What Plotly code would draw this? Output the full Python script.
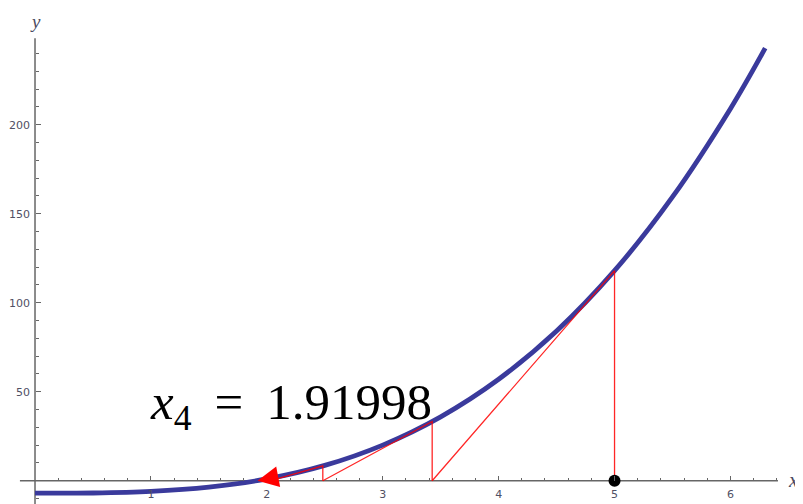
import plotly.graph_objects as go

# Curve values
curve_x = [0.0, 0.5, 1.0, 1.5, 2.0, 2.5, 3.0, 3.5, 4.0, 4.5, 5.0, 5.5, 6.0, 6.3]
curve_y = [-7.0, -6.9, -6.0, -3.6, 1.0, 8.6, 20.0, 35.9, 57.0, 84.1, 118.0, 159.4, 209.0, 243.0]

# Newton iterates
newton_x = [5.0, 3.4267, 2.4831, 2.0338, 1.91998]
newton_fx = [118.0, 33.24, 8.31, 1.413, 0.0]

x_ticks = [1, 2, 3, 4, 5, 6]
y_ticks = [50, 100, 150, 200]
x_minor = [round(i * 0.2, 1) for i in range(1, 33) if i % 5 != 0]
y_minor = [v for v in range(-10, 250, 10) if v % 50 != 0]

# page has an 8px body margin: figure is placed at (8, 8)
OFF = 8
W, H = 795, 496
XR = [-0.233, 6.626]
YR = [-13.09, 265.56]

def px_x(p):
    return (p - OFF) / W

def px_y(p):
    return 1 - (p - OFF) / H

fig = go.Figure()

# main curve
fig.add_trace(go.Scatter(
    x=curve_x, y=curve_y, mode="lines", line_shape="spline",
    line=dict(color="rgb(58,58,156)", width=4.8), hoverinfo="skip", showlegend=False))

# Newton construction (vertical + tangent segments)
seg_x, seg_y = [], []
for i in range(len(newton_x) - 2):
    seg_x += [newton_x[i], newton_x[i], newton_x[i + 1], None]
    seg_y += [0, newton_fx[i], 0, None]
i = len(newton_x) - 2
seg_x += [newton_x[i], newton_x[i], None]
seg_y += [0, newton_fx[i], None]
fig.add_trace(go.Scatter(
    x=seg_x, y=seg_y, mode="lines", line=dict(color="rgba(255,0,0,0.85)", width=1.3),
    hoverinfo="skip", showlegend=False, connectgaps=False))

# starting point
fig.add_trace(go.Scatter(
    x=[newton_x[0]], y=[0], mode="markers",
    marker=dict(color="black", size=12), hoverinfo="skip", showlegend=False))

# final arrow
fig.add_annotation(
    x=newton_x[-1], y=newton_fx[-1], ax=newton_x[-2], ay=newton_fx[-2],
    xref="x", yref="y", axref="x", ayref="y", showarrow=True, text="",
    arrowhead=2, arrowsize=2.8, arrowwidth=1.5, arrowcolor="red")

axis_color = "#666666"
tick_font = dict(family="DejaVu Sans", size=11, color="#505064")

# axis lines as shapes
fig.add_shape(type="line", xref="x", yref="y", x0=-0.13, x1=6.41, y0=0, y1=0,
              line=dict(color=axis_color, width=1.5), layer="below")
fig.add_shape(type="line", xref="x", yref="y", x0=0, x1=0, y0=YR[0], y1=248.5,
              line=dict(color=axis_color, width=1.5), layer="below")

xpos = (0 - YR[0]) / (YR[1] - YR[0])
ypos = (0 - XR[0]) / (XR[1] - XR[0])

fig.update_layout(
    width=W, height=H, margin=dict(l=0, r=0, t=0, b=0),
    paper_bgcolor="white", plot_bgcolor="white",
    xaxis=dict(range=XR, showgrid=False, zeroline=False, showline=False,
               anchor="free", position=xpos, side="bottom",
               tickvals=x_ticks, ticktext=[str(v) for v in x_ticks],
               ticks="inside", ticklen=5, tickwidth=1.2, tickcolor=axis_color,
               tickfont=tick_font, ticklabelstandoff=5,
               minor=dict(tickvals=x_minor, ticks="inside", ticklen=3,
                          tickwidth=1, tickcolor=axis_color)),
    yaxis=dict(range=YR, showgrid=False, zeroline=False, showline=False,
               anchor="free", position=ypos, side="left",
               tickvals=y_ticks, ticktext=[str(v) for v in y_ticks],
               ticks="inside", ticklen=5, tickwidth=1.2, tickcolor=axis_color,
               tickfont=tick_font, ticklabelstandoff=5,
               minor=dict(tickvals=y_minor, ticks="inside", ticklen=3,
                          tickwidth=1, tickcolor=axis_color)),
)

# axis labels
fig.add_annotation(x=px_x(35), y=px_y(21), xref="paper", yref="paper",
                   xanchor="center", yanchor="middle",
                   text="<i>y</i>", showarrow=False,
                   font=dict(family="Liberation Serif", size=19, color="#4a4a60"))
fig.add_annotation(x=px_x(793), y=px_y(480), xref="paper", yref="paper",
                   xanchor="center", yanchor="middle",
                   text="<i>x</i>", showarrow=False,
                   font=dict(family="Liberation Serif", size=21, color="#4a4a60"))

# result label
fig.add_annotation(x=px_x(148), y=px_y(406), xref="paper", yref="paper",
                   xanchor="left", yanchor="middle",
                   text="<i>x</i><sub>4</sub>&nbsp;&#8201;=&nbsp;&#8201;1.91998", showarrow=False,
                   font=dict(family="Liberation Serif", size=51, color="black"))

fig.write_html("out.html")
